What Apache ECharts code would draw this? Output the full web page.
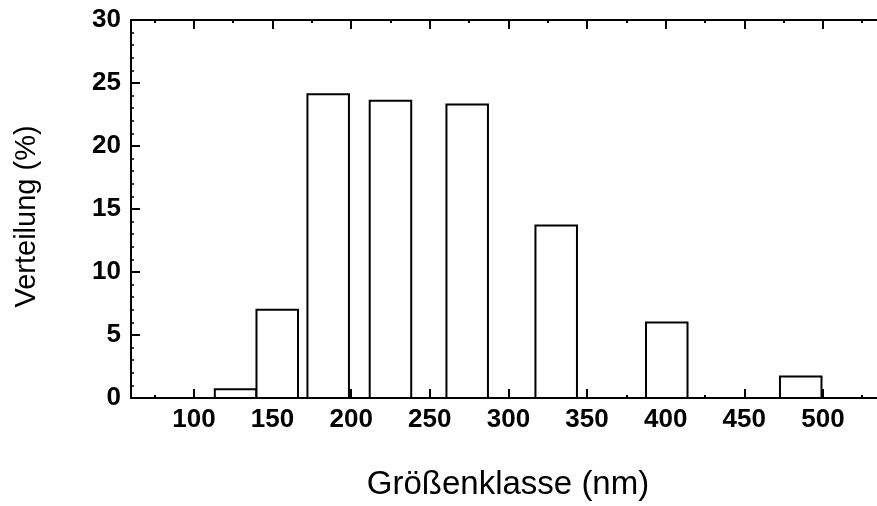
<!DOCTYPE html>
<html>
<head>
<meta charset="utf-8">
<script src="https://cdn.jsdelivr.net/npm/echarts@6/dist/echarts.min.js"></script>
<style>
  html, body { margin: 0; padding: 0; background: #fff; }
  #chart { width: 877px; height: 506px; }
</style>
</head>
<body>
<div id="chart"></div>
<script>
// Size classes: bin centre (nm) and share of particles (%)
const binCenters = [126.5, 153, 185.4, 225, 273.8, 330.4, 400.7, 485.9];
const shares = [0.7, 7.0, 24.1, 23.6, 23.3, 13.7, 6.0, 1.7];
// Width of each size class in nm
const binWidth = 26.4;

// Axis ticks and labels
const xMajorTicks = [100, 150, 200, 250, 300, 350, 400, 450, 500];
const xMinorTicks = [75, 125, 175, 225, 275, 325, 375, 425, 475, 525];
const xTickLabels = [100, 150, 200, 250, 300, 350, 400, 450, 500];
const yTickLabels = [0, 5, 10, 15, 20, 25, 30];

const FONT = '"Liberation Sans", Arial, Helvetica, sans-serif';
const X_MIN = 60, X_MAX = 534.4;

const data = binCenters.map((c, i) => [c, shares[i]]);

function tickAxis(position, values, length, withLine) {
  return {
    type: 'value', position: position, min: X_MIN, max: X_MAX,
    axisLine: { show: withLine, onZero: false, lineStyle: { color: '#000', width: 2 } },
    axisTick: { show: true, inside: true, length: length, customValues: values,
                lineStyle: { color: '#000', width: 2 } },
    axisLabel: { show: false },
    splitLine: { show: false }
  };
}

const chart = echarts.init(document.getElementById('chart'), null, { renderer: 'canvas' });
chart.setOption({
  animation: false,
  backgroundColor: '#fff',
  grid: { left: 131, right: 0, top: 20, bottom: 108, containLabel: false, outerBoundsMode: 'none' },
  xAxis: [
    {
      type: 'value', position: 'bottom', min: X_MIN, max: X_MAX,
      name: 'Größenklasse (nm)', nameLocation: 'middle', nameGap: 70,
      nameTextStyle: { fontFamily: FONT, fontSize: 33, color: '#000', padding: [0, 0, 0, 8] },
      axisLine: { show: true, onZero: false, lineStyle: { color: '#000', width: 2 } },
      axisTick: { show: true, inside: true, length: 9, customValues: xMajorTicks,
                  lineStyle: { color: '#000', width: 2 } },
      axisLabel: { show: true, customValues: xTickLabels, margin: 9,
                   fontFamily: FONT, fontSize: 26, fontWeight: 'bold', color: '#000' },
      splitLine: { show: false }
    },
    tickAxis('bottom', xMinorTicks, 3, false),
    tickAxis('top', xMajorTicks, 9, true),
    tickAxis('top', xMinorTicks, 3, false)
  ],
  yAxis: [
    {
      type: 'value', position: 'left', min: 0, max: 30, interval: 5,
      name: 'Verteilung (%)', nameLocation: 'middle', nameGap: 90,
      nameTextStyle: { fontFamily: FONT, fontSize: 29, color: '#000', padding: [0, 15, 0, 0] },
      axisLine: { show: true, onZero: false, lineStyle: { color: '#000', width: 2 } },
      axisTick: { show: true, inside: true, length: 9, lineStyle: { color: '#000', width: 2 } },
      minorTick: { show: true, splitNumber: 5, length: 3, lineStyle: { color: '#000', width: 1.5 } },
      axisLabel: { show: true, margin: 10, fontFamily: FONT, fontSize: 26, fontWeight: 'bold', color: '#000',
                   customValues: yTickLabels },
      splitLine: { show: false }
    }
  ],
  series: [
    {
      type: 'custom',
      xAxisIndex: 0,
      yAxisIndex: 0,
      data: data,
      encode: { x: 0, y: 1 },
      renderItem: function (params, api) {
        const c = api.value(0), v = api.value(1);
        const p0 = api.coord([c - binWidth / 2, v]);
        const p1 = api.coord([c + binWidth / 2, 0]);
        return {
          type: 'rect',
          shape: { x: p0[0], y: p0[1], width: p1[0] - p0[0], height: p1[1] - p0[1] },
          style: { fill: '#fff', stroke: '#000', lineWidth: 2 }
        };
      }
    }
  ]
});
</script>
</body>
</html>
